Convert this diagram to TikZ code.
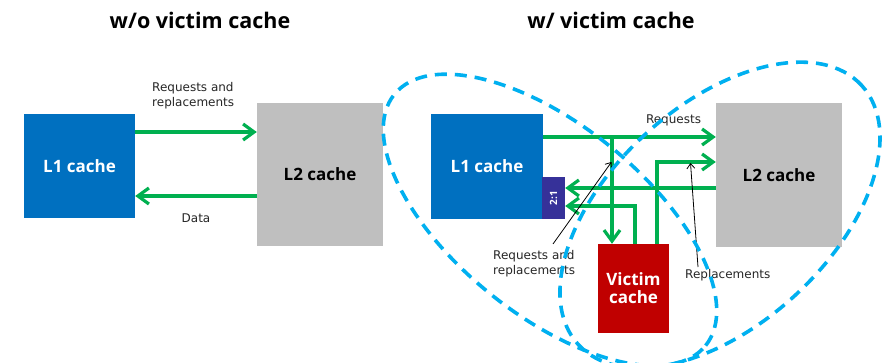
\documentclass[tikz,border=0pt]{standalone}
\usepackage{fontspec}
\usetikzlibrary{arrows.meta}
\newfontfamily\headfont{Open Sans}
\newfontfamily\labfont{DejaVu Sans}
\definecolor{lone}{HTML}{0070C0}
\definecolor{ltwo}{HTML}{BFBFBF}
\definecolor{muxc}{HTML}{363199}
\definecolor{vict}{HTML}{C00000}
\definecolor{flow}{HTML}{00B050}
\definecolor{zone}{HTML}{00B0F0}
\tikzset{
  title/.style={font=\headfont\bfseries\fontsize{21.5}{24}\selectfont, text=black},
  boxtext/.style={font=\headfont\bfseries\fontsize{17}{20}\selectfont},
  lab/.style={font=\labfont\fontsize{12}{15}\selectfont, text=black!85, inner sep=0pt},
  garrow/.style={draw=flow, line width=3.2pt, -{Straight Barb[length=11pt,width=16pt,line width=3.2pt]}},
  note/.style={draw=black, line width=0.8pt, -{Straight Barb[length=5pt,width=8pt,line width=0.8pt]}},
  zonedash/.style={draw=zone, line width=3.6pt, dash pattern=on 12pt off 8pt}
}
\begin{document}
\begin{tikzpicture}[x=1pt,y=-1pt]
\useasboundingbox (0,0) rectangle (888,363);
\fill[white] (0,0) rectangle (888,363);

% titles
\node[title] (t1) at (200,20) {w/o victim cache};
\node[title] (t2) at (611,20) {w/ victim cache};

% ---- without victim cache ----
\node[fill=lone, minimum width=111pt, minimum height=104pt, boxtext, text=white] (l1a) at (79.5,166) {L1 cache};
\node[fill=ltwo, minimum width=126pt, minimum height=143pt, boxtext, text=black] (l2a) at (320,174.5) {L2 cache};
\coordinate (ra) at (0,132);
\coordinate (da) at (0,196);
\draw[garrow] (l1a.east |- ra) -- (l2a.west |- ra);
\draw[garrow] (l2a.west |- da) -- (l1a.east |- da);
\node[lab, align=left, anchor=north west] (rqa) at (152,82) {Requests and\\replacements};
\node[lab] (dta) at (196,218) {Data};

% ---- with victim cache ----
\node[fill=lone, minimum width=112pt, minimum height=105pt, boxtext, text=white] (l1b) at (487,166.5) {L1 cache};
\node[fill=muxc, minimum width=23pt, minimum height=42pt, inner sep=0pt] (mux) at (553.5,198)
  {\rotatebox{90}{\headfont\bfseries\fontsize{10}{12}\selectfont\textcolor{white}{2:1}}};
\node[fill=ltwo, minimum width=126pt, minimum height=144pt, boxtext, text=black] (l2b) at (779,175) {L2 cache};
\node[fill=vict, minimum width=71pt, minimum height=89pt, boxtext, text=white, align=center] (vc) at (633.5,288.5) {Victim\\[-2pt]cache};

\coordinate (rq) at (612,137);
\coordinate (rp) at (657,162);
\coordinate (dt) at (0,188);
\coordinate (vr) at (635,206);

% requests to L2, with the branch down into the victim cache
\draw[garrow] (l1b.east |- rq) -- (l2b.west |- rq);
\draw[garrow] (rq) -- (rq |- vc.north);
% replacements from the victim cache to L2
\draw[garrow] (rp |- vc.north) -- (rp) -- (rp -| l2b.west);
% data from L2 and from the victim cache into the 2:1 mux
\draw[garrow] (l2b.west |- dt) -- (mux.east |- dt);
\draw[garrow] (vr |- vc.north) -- (vr) -- (vr -| mux.east);

\node[lab] (rqb) at (673.5,120) {Requests};
\node[lab, align=left, anchor=north west] (rrb) at (493,250) {Requests and\\replacements};
\node[lab, anchor=north west] (rpb) at (685,269) {Replacements};
\coordinate (n1) at (553,244);
\coordinate (n1t) at (611.5,162);
\coordinate (n2) at (698,267);
\coordinate (n2t) at (690.5,163);
\draw[note] (n1) -- (n1t);
\draw[note] (n2) -- (n2t);

% dashed regions
\coordinate (ca) at (550,220);
\coordinate (cb) at (720,215);
\draw[zonedash, rotate around={-38.9:(ca)}] (ca) ellipse [x radius=200pt, y radius=95pt];
\draw[zonedash, rotate around={42.4:(cb)}] (cb) ellipse [x radius=192pt, y radius=110pt];
\end{tikzpicture}
\end{document}
